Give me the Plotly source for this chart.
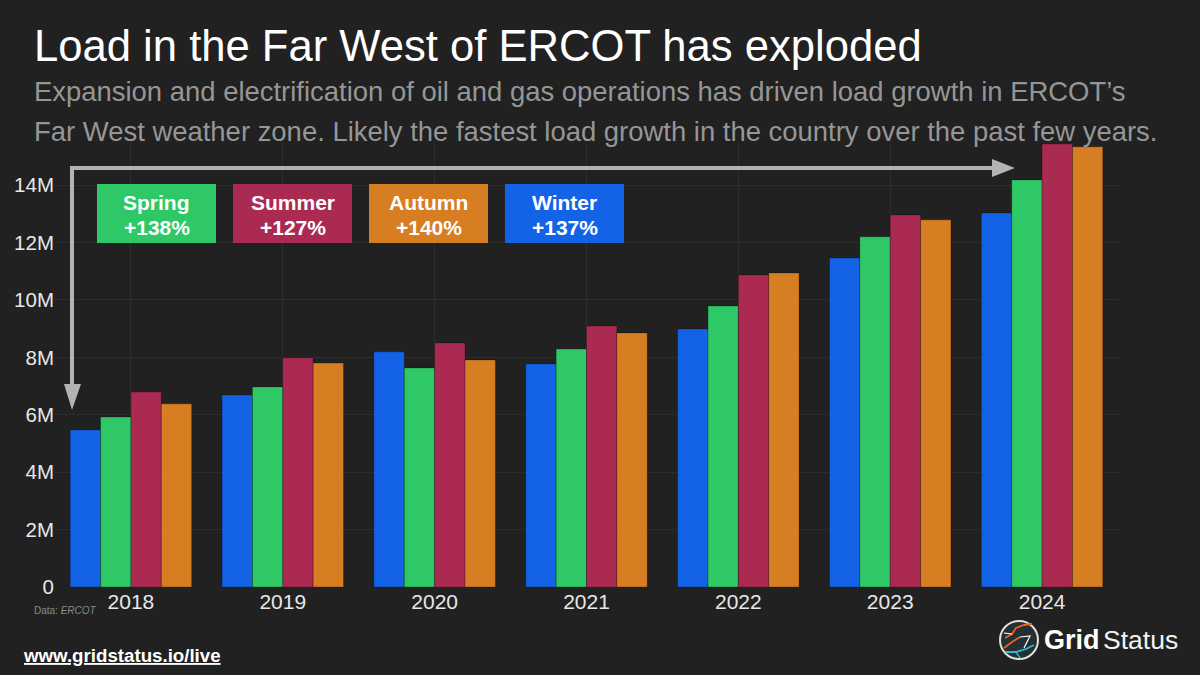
import plotly.graph_objects as go

W, H = 1200, 675
# plot area in pixels
L, R, T, B = 55, 1118, 144, 587

years = ["2018", "2019", "2020", "2021", "2022", "2023", "2024"]
winter = [5470000, 6690000, 8190000, 7770000, 8990000, 11460000, 13030000]
spring = [5920000, 6970000, 7630000, 8290000, 9790000, 12200000, 14180000]
summer = [6790000, 7980000, 8500000, 9090000, 10870000, 12960000, 15430000]
autumn = [6380000, 7800000, 7910000, 8850000, 10940000, 12790000, 15330000]

tick_vals = [0, 2000000, 4000000, 6000000, 8000000, 10000000, 12000000, 14000000]
tick_text = ["0", "2M", "4M", "6M", "8M", "10M", "12M", "14M"]

season_names = ["Spring", "Summer", "Autumn", "Winter"]
season_changes = ["+138%", "+127%", "+140%", "+137%"]

BLUE = "#1463e6"
GREEN = "#2ec866"
RED = "#ab2a52"
ORANGE = "#d77d22"
BG = "#212121"
GREY = "#b3b3b3"
SUB = "#969696"
FONT = "Liberation Sans"


def px(x):
    return (x - L) / (R - L)


def py(y):
    return (B - y) / (B - T)


def label(x, y, text, size, color="white", anchor="left", **kw):
    return dict(x=px(x), y=py(y), xref="paper", yref="paper", text=text, showarrow=False,
                xanchor=anchor, yanchor="middle", align=anchor, borderpad=0,
                font=dict(family=FONT, size=size, color=color), **kw)


def path_shape(pts, line_color, width, fill=None):
    d = "M " + " L ".join(f"{px(a):.5f},{py(b):.5f}" for a, b in pts)
    if fill:
        d += " Z"
    return dict(type="path", xref="paper", yref="paper", path=d,
                line=dict(color=line_color, width=width), fillcolor=fill, layer="above")


fig = go.Figure()
for name, vals, col in [("Winter", winter, BLUE), ("Spring", spring, GREEN),
                        ("Summer", summer, RED), ("Autumn", autumn, ORANGE)]:
    fig.add_trace(go.Bar(x=years, y=vals, name=name, marker_color=col,
                         marker_line=dict(color="rgba(0,0,0,0.25)", width=1)))

annotations = [
    label(33, 46, "Load in the Far West of ERCOT has exploded", 43.6),
    label(33, 92, "Expansion and electrification of oil and gas operations has driven load growth in ERCOT’s", 27.45, SUB),
    label(33, 132, "Far West weather zone. Likely the fastest load growth in the country over the past few years.", 27.45, SUB),
    label(33, 610, "Data: <i>ERCOT</i>", 10, "#8a8a8a"),
    label(22, 655, "<b><u>www.gridstatus.io/live</u></b>", 18.7),
    label(1043, 640, "<b>Grid</b>", 27),
    label(1102, 640, "Status", 26.5, "#f2f2f2"),
]

shapes = [
    # grey bracket arrow from the 2018 bars to the 2024 bars
    path_shape([(72, 384), (72, 168), (992, 168)], GREY, 4),
    path_shape([(64, 384), (81, 384), (72, 410)], GREY, 0, fill=GREY),
    path_shape([(992, 159), (1015, 168), (992, 177)], GREY, 0, fill=GREY),
]

box_colors = [GREEN, RED, ORANGE, BLUE]
for i, (nm, chg, col) in enumerate(zip(season_names, season_changes, box_colors)):
    x0 = 97 + i * 136
    shapes.append(dict(type="rect", xref="paper", yref="paper", x0=px(x0), x1=px(x0 + 119),
                       y0=py(243), y1=py(184), fillcolor=col, line=dict(width=0), layer="above"))
    annotations.append(label(x0 + 59.5, 202, f"<b>{nm}</b>", 21, anchor="center"))
    annotations.append(label(x0 + 59.5, 227, f"<b>{chg}</b>", 21, anchor="center"))

# logo
shapes.append(dict(type="circle", xref="paper", yref="paper", x0=px(1000), x1=px(1038),
                   y0=py(659), y1=py(621), fillcolor="#233034",
                   line=dict(color="#e4e0d8", width=2), layer="above"))
shapes += [
    path_shape([(1005, 638), (1012, 634), (1016, 628), (1024, 625), (1032, 624)], "#f0601e", 1.8),
    path_shape([(1004, 648), (1012, 642), (1020, 637)], "#f0601e", 1.8),
    path_shape([(1004, 633), (1012, 634)], "white", 1.2),
    path_shape([(1020, 637), (1030, 636), (1024, 648)], "white", 1.2),
    path_shape([(1005, 652), (1016, 652), (1026, 649), (1034, 645)], "#35b6cc", 1.8),
    path_shape([(1016, 652), (1020, 658)], "#35b6cc", 1.4),
]

fig.update_layout(
    width=W, height=H,
    autosize=False,
    barmode="group", bargap=0.2, bargroupgap=0,
    paper_bgcolor=BG, plot_bgcolor=BG,
    showlegend=False,
    margin=dict(l=L, r=W - R, t=T, b=H - B, pad=0),
    font=dict(family=FONT, size=21, color="#e8e8e8"),
    annotations=annotations, shapes=shapes,
    xaxis=dict(type="category", showgrid=True, gridcolor="#2d2d2d", gridwidth=1,
               ticks="", ticklen=0, zeroline=False, showline=False,
               tickfont=dict(size=21, color="#e8e8e8")),
    yaxis=dict(range=[0, 15430000], tickvals=tick_vals, ticktext=tick_text, showgrid=True,
               gridcolor="#2d2d2d", gridwidth=1, zeroline=False, showline=False, ticks="",
               tickfont=dict(size=20.5, color="#e8e8e8")),
)

# the browser's default body margin would push the figure 8px off the corner
fig.write_html("out.html", config={"displayModeBar": False},
               post_script="document.body.style.margin='0';document.body.style.background='#212121';")
